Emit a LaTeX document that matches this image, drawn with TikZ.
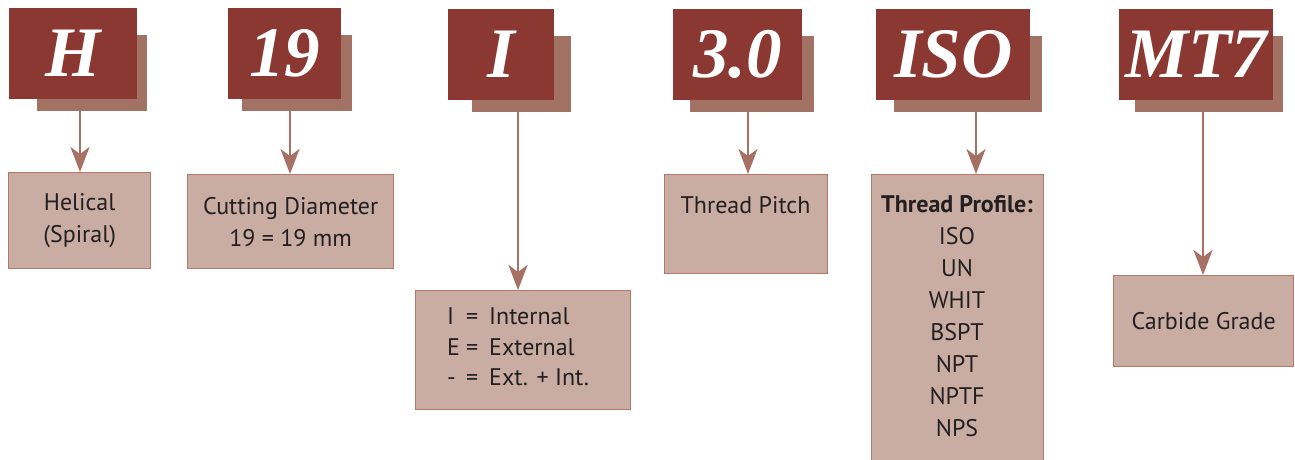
\documentclass[tikz,border=0pt]{standalone}
\usepackage{fontspec}
\setmainfont{Liberation Serif}
\setsansfont{PT Sans}
\usetikzlibrary{arrows.meta}
\definecolor{hdrc}{HTML}{8B3832}
\definecolor{shc}{HTML}{A27365}
\definecolor{tbfill}{HTML}{C9ADA3}
\definecolor{tbline}{HTML}{B5776A}
\definecolor{arrc}{HTML}{A67164}
\definecolor{txtc}{HTML}{231F20}
\begin{document}
\begin{tikzpicture}[x=1pt,y=-1pt,
  hdrbox/.style={fill=hdrc, text=white, inner sep=0pt, anchor=north west,
    font=\fontsize{71}{71}\selectfont\bfseries\itshape},
  shbox/.style={fill=shc, inner sep=0pt, anchor=north west},
  tbox/.style={fill=tbfill, draw=tbline, line width=1.3pt, inner sep=0pt, anchor=north west,
    align=center, text=txtc, font=\sffamily\fontsize{24}{32}\selectfont},
  tlabel/.style={text=txtc, inner sep=0pt, font=\sffamily\fontsize{24}{32}\selectfont, align=center},
  arr/.style={draw=arrc, line width=2.6pt, -{Stealth[length=25pt,width=19pt,inset=7pt]}}
]
\useasboundingbox (0,0) rectangle (1295,459);
\fill[white] (0,0) rectangle (1295,459);

% shadows
\node[shbox, minimum width=110pt, minimum height=76pt] (hs) at (37,35) {};
\node[shbox, minimum width=110pt, minimum height=76pt] (ds) at (242,35) {};
\node[shbox, minimum width=99pt, minimum height=76pt] (is) at (472,36) {};
\node[shbox, minimum width=124pt, minimum height=76pt] (ps) at (690,36) {};
\node[shbox, minimum width=148pt, minimum height=76pt] (os) at (894,36) {};
\node[shbox, minimum width=148pt, minimum height=76pt] (ms) at (1135,36) {};

% headers
\node[hdrbox, minimum width=128pt, minimum height=91pt] (h) at (9,8) {H};
\node[hdrbox, minimum width=113pt, minimum height=91pt] (d) at (228,8) {19};
\node[hdrbox, minimum width=106pt, minimum height=91pt] (i) at (448,9) {I};
\node[hdrbox, minimum width=129pt, minimum height=91pt] (p) at (673,9) {3.0};
\node[hdrbox, minimum width=154pt, minimum height=91pt] (o) at (876,9) {ISO};
\node[hdrbox, minimum width=154pt, minimum height=91pt] (m) at (1119,9) {MT7};

% text boxes
\node[tbox, minimum width=142pt, minimum height=96pt] (tb1) at (8,172) {Helical\\(Spiral)};
\node[tbox, minimum width=206pt, minimum height=94pt] (tb2) at (187,174) {Cutting Diameter\\19 = 19 mm};
\node[tbox, minimum width=215pt, minimum height=119pt] (tb3) at (415,290) {};
\node[tbox, minimum width=163pt, minimum height=99pt] (tb4) at (664,174) {};
\node[tbox, minimum width=172pt, minimum height=300pt] (tb5) at (871,174) {};
\node[tbox, minimum width=180pt, minimum height=91pt] (tb6) at (1113,275) {Carbide Grade};

% texts inside boxes
\node[tlabel, anchor=west, font=\sffamily\fontsize{24}{30.5}\selectfont] (t3) at (447,349) {\begin{tabular}{@{}l@{\hspace{6pt}}c@{\hspace{11pt}}l@{}}I & = & Internal\\E & = & External\\- & = & Ext. + Int.\end{tabular}};
\node[tlabel] (t4) at (745.5,205) {Thread Pitch};
\node[tlabel, anchor=north] (t5) at (957,195) {\textbf{Thread Profile:}\\ISO\\UN\\WHIT\\BSPT\\NPT\\NPTF\\NPS};

% arrows
\draw[arr] (hs.south -| 80,0) -- (tb1.north -| 80,0);
\draw[arr] (ds.south -| 290,0) -- (tb2.north -| 290,0);
\draw[arr] (is.south -| 518,0) -- (tb3.north -| 518,0);
\draw[arr] (ps.south -| 748,0) -- (tb4.north -| 748,0);
\draw[arr] (os.south -| 976,0) -- (tb5.north -| 976,0);
\draw[arr] (ms.south -| 1203,0) -- (tb6.north -| 1203,0);
\end{tikzpicture}
\end{document}
